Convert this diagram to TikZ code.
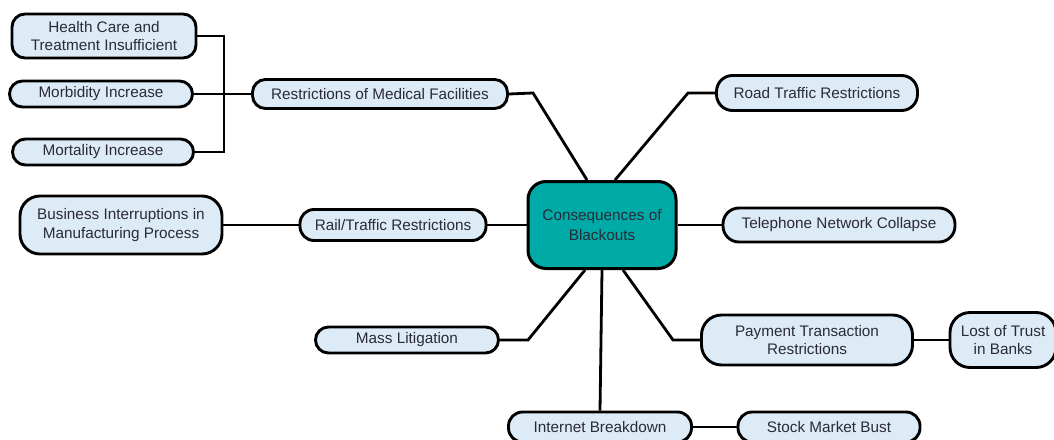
\documentclass[tikz,border=0pt]{standalone}
\usepackage{fontspec}
\setmainfont{Liberation Sans}
\definecolor{boxfill}{HTML}{DDEBF6}
\definecolor{teal1}{HTML}{00AAA6}
\definecolor{txt}{HTML}{2A2A38}
\begin{document}
\begin{tikzpicture}[x=1pt,y=-1pt,
  leaf/.style={draw=black, line width=2.9pt, fill=boxfill, rounded corners=13pt,
    inner sep=0pt, align=center, text=txt, font=\fontsize{15.3}{18.5}\selectfont},
  hub/.style={draw=black, line width=3pt, fill=teal1, rounded corners=18pt,
    inner sep=0pt, align=center, text=txt, font=\fontsize{15.3}{20}\selectfont},
  link/.style={line width=2.8pt, line join=miter}]
\useasboundingbox (0,0) rectangle (1054,439);
% nodes
\node[leaf, minimum width=184pt, minimum height=44pt] (hc) at (104,36) {Health Care and\\Treatment Insufficient};
\node[leaf, minimum width=183pt, minimum height=26pt] (morb) at (101,94) {Morbidity Increase};
\node[leaf, minimum width=181pt, minimum height=26pt] (mort) at (103,152) {Mortality Increase};
\node[leaf, minimum width=255pt, minimum height=29pt] (rmf) at (380,94) {Restrictions of Medical Facilities};
\node[leaf, minimum width=201pt, minimum height=35pt, rounded corners=16pt] (road) at (817,93) {Road Traffic Restrictions};
\node[hub, minimum width=148pt, minimum height=87pt] (cen) at (602,225) {Consequences of\\Blackouts};
\node[leaf, minimum width=202pt, minimum height=58pt, rounded corners=20pt] (bus) at (121,225) {Business Interruptions in\\Manufacturing Process};
\node[leaf, minimum width=186pt, minimum height=31pt, rounded corners=14pt] (rail) at (393,225) {Rail/Traffic Restrictions};
\node[leaf, minimum width=232pt, minimum height=34pt, rounded corners=16pt] (tel) at (839,225) {Telephone Network Collapse};
\node[leaf, minimum width=183pt, minimum height=26pt] (mass) at (407,340) {Mass Litigation};
\node[leaf, minimum width=211pt, minimum height=50pt, rounded corners=20pt] (pay) at (807,340) {Payment Transaction\\Restrictions};
\node[leaf, minimum width=106pt, minimum height=55pt, rounded corners=20pt] (trust) at (1003,340) {Lost of Trust\\in Banks};
\node[leaf, minimum width=183pt, minimum height=30pt, rounded corners=14pt] (inet) at (600,427) {Internet Breakdown};
\node[leaf, minimum width=182pt, minimum height=30pt, rounded corners=14pt] (stock) at (829,427) {Stock Market Bust};
% junctions
\coordinate (jv) at (224,94);
\coordinate (b1) at (533,93);
\coordinate (b2) at (688,93);
\coordinate (b3) at (528,340);
\coordinate (b4) at (673,340);
% connectors
\draw[link] (hc.east) -| (jv) |- (mort.east);
\draw[link] (morb.east) -- (rmf.west);
\draw[link] (rmf.east) -- (b1) -- ([xshift=-15pt]cen.north);
\draw[link] (road.west) -- (b2) -- ([xshift=13pt]cen.north);
\draw[link] (bus.east) -- (rail.west);
\draw[link] (rail.east) -- (cen.west);
\draw[link] (cen.east) -- (tel.west);
\draw[link] (mass.east) -- (b3) -- ([xshift=-17pt]cen.south);
\draw[link] (cen.south) -- (inet.north);
\draw[link] (pay.west) -- (b4) -- ([xshift=21pt]cen.south);
\draw[link] (pay.east) -- (trust.west);
\draw[link] (inet.east) -- (stock.west);
\end{tikzpicture}
\end{document}
